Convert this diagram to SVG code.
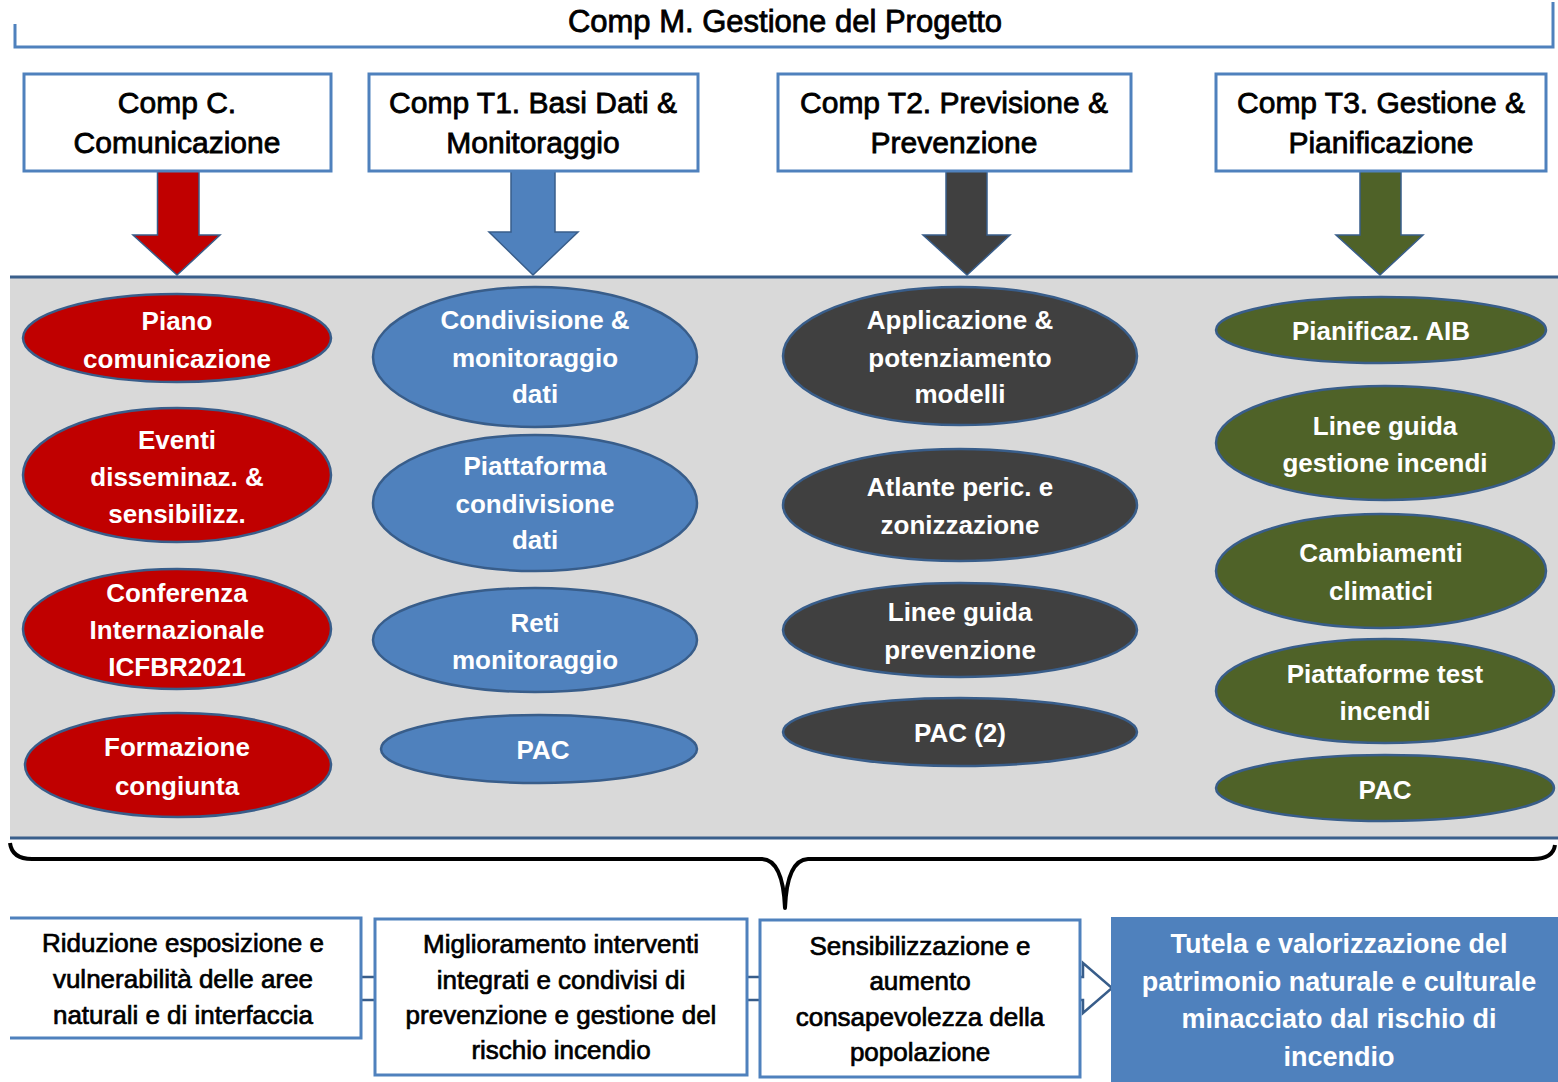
<svg xmlns="http://www.w3.org/2000/svg" width="1558" height="1082" viewBox="0 0 1558 1082">
<style>
.hdr{fill:#fff;stroke:#4F81BD;stroke-width:3}
.ht{font-family:"Liberation Sans",Arial,sans-serif;font-size:30px;fill:#000;stroke:#000;stroke-width:0.8;text-anchor:middle}
.el{stroke:#385D8A;stroke-width:2.5}
.red{fill:#C00000}.blu{fill:#4F81BD}.dk{fill:#404040}.olv{fill:#4F6228}
.et{font-family:"Liberation Sans",Arial,sans-serif;font-size:26px;font-weight:bold;fill:#fff;text-anchor:middle}
.arr{stroke:#385D8A;stroke-width:1.5}
.bx{fill:#fff;stroke:#4F81BD;stroke-width:3}
.bt{font-family:"Liberation Sans",Arial,sans-serif;font-size:26px;fill:#000;stroke:#000;stroke-width:0.7;text-anchor:middle}
.wt{font-family:"Liberation Sans",Arial,sans-serif;font-size:27px;font-weight:bold;fill:#fff;text-anchor:middle}
</style>

<g id="comp-m">
<path d="M15,24 L15,47 L1553,47 L1553,2" fill="none" stroke="#4F81BD" stroke-width="3"/>
<text class="ht" x="785" y="32" style="font-size:31px">Comp M. Gestione del Progetto</text>
</g>

<g id="panel">
<rect x="10" y="277" width="1548" height="561" fill="#D9D9D9"/>
<line x1="10" y1="277" x2="1558" y2="277" stroke="#3A5F8B" stroke-width="3"/>
<line x1="10" y1="838" x2="1558" y2="838" stroke="#3A5F8B" stroke-width="3"/>
</g>

<g id="connectors">
<polygon class="arr red" points="157.5,171 199,171 199,235 220,235 177,275 133,235 157.5,235"/>
<polygon class="arr blu" points="511,171 555,171 555,232 578,232 533,275 489,232 511,232"/>
<polygon class="arr dk" points="946,171 987,171 987,235 1010,235 967,275 923,235 946,235"/>
<polygon class="arr olv" points="1360,171 1401,171 1401,235 1423,235 1380,275 1336,235 1360,235"/>
<path d="M10,843 Q12,859 32,859 L762,859 Q783,860 785,908 Q787,860 808,859 L1533,859 Q1553,859 1555,845" fill="none" stroke="#000" stroke-width="4" stroke-linejoin="round"/>
<polygon points="300,977 1083,977 1083,963 1112,988 1083,1013 1083,1000 300,1000" fill="#fff" stroke="#385D8A" stroke-width="2.5"/>
</g>

<g id="hdr-c"><rect class="hdr" x="24" y="74" width="307" height="97"/>
<text class="ht" x="177" y="113">Comp C.</text><text class="ht" x="177" y="153">Comunicazione</text></g>
<g id="hdr-t1"><rect class="hdr" x="369" y="74" width="329" height="97"/>
<text class="ht" x="533" y="113">Comp T1. Basi Dati &amp;</text><text class="ht" x="533" y="153">Monitoraggio</text></g>
<g id="hdr-t2"><rect class="hdr" x="778" y="74" width="353" height="97"/>
<text class="ht" x="954" y="113">Comp T2. Previsione &amp;</text><text class="ht" x="954" y="153">Prevenzione</text></g>
<g id="hdr-t3"><rect class="hdr" x="1216" y="74" width="330" height="97"/>
<text class="ht" x="1381" y="113">Comp T3. Gestione &amp;</text><text class="ht" x="1381" y="153">Pianificazione</text></g>

<g id="c1"><ellipse class="el red" cx="177" cy="338" rx="154" ry="44"/>
<text class="et" x="177" y="330">Piano</text><text class="et" x="177" y="368">comunicazione</text></g>
<g id="c2"><ellipse class="el red" cx="177" cy="475" rx="154" ry="67"/>
<text class="et" x="177" y="449">Eventi</text><text class="et" x="177" y="486">disseminaz. &amp;</text><text class="et" x="177" y="523">sensibilizz.</text></g>
<g id="c3"><ellipse class="el red" cx="177" cy="629" rx="154" ry="60"/>
<text class="et" x="177" y="602">Conferenza</text><text class="et" x="177" y="639">Internazionale</text><text class="et" x="177" y="676">ICFBR2021</text></g>
<g id="c4"><ellipse class="el red" cx="178" cy="765" rx="153" ry="52"/>
<text class="et" x="177" y="756">Formazione</text><text class="et" x="177" y="795">congiunta</text></g>

<g id="t1a"><ellipse class="el blu" cx="535" cy="357" rx="162" ry="70"/>
<text class="et" x="535" y="329">Condivisione  &amp;</text><text class="et" x="535" y="367">monitoraggio</text><text class="et" x="535" y="403">dati</text></g>
<g id="t1b"><ellipse class="el blu" cx="535" cy="503" rx="162" ry="68"/>
<text class="et" x="535" y="475">Piattaforma</text><text class="et" x="535" y="513">condivisione</text><text class="et" x="535" y="549">dati</text></g>
<g id="t1c"><ellipse class="el blu" cx="535" cy="640" rx="162" ry="52"/>
<text class="et" x="535" y="632">Reti</text><text class="et" x="535" y="669">monitoraggio</text></g>
<g id="t1d"><ellipse class="el blu" cx="539" cy="749" rx="158" ry="34"/>
<text class="et" x="543" y="759">PAC</text></g>

<g id="t2a"><ellipse class="el dk" cx="960" cy="356" rx="177" ry="69"/>
<text class="et" x="960" y="329">Applicazione &amp;</text><text class="et" x="960" y="367">potenziamento</text><text class="et" x="960" y="403">modelli</text></g>
<g id="t2b"><ellipse class="el dk" cx="960" cy="505" rx="177" ry="56"/>
<text class="et" x="960" y="496">Atlante peric. e</text><text class="et" x="960" y="534">zonizzazione</text></g>
<g id="t2c"><ellipse class="el dk" cx="960" cy="630" rx="177" ry="47"/>
<text class="et" x="960" y="621">Linee guida</text><text class="et" x="960" y="659">prevenzione</text></g>
<g id="t2d"><ellipse class="el dk" cx="960" cy="732" rx="177" ry="34"/>
<text class="et" x="960" y="742">PAC (2)</text></g>

<g id="t3a"><ellipse class="el olv" cx="1381" cy="330" rx="165" ry="33"/>
<text class="et" x="1381" y="340">Pianificaz. AIB</text></g>
<g id="t3b"><ellipse class="el olv" cx="1385" cy="443" rx="169" ry="57"/>
<text class="et" x="1385" y="435">Linee guida</text><text class="et" x="1385" y="472">gestione incendi</text></g>
<g id="t3c"><ellipse class="el olv" cx="1381" cy="571" rx="165" ry="57"/>
<text class="et" x="1381" y="562">Cambiamenti</text><text class="et" x="1381" y="600">climatici</text></g>
<g id="t3d"><ellipse class="el olv" cx="1385" cy="691" rx="169" ry="52"/>
<text class="et" x="1385" y="683">Piattaforme test</text><text class="et" x="1385" y="720">incendi</text></g>
<g id="t3e"><ellipse class="el olv" cx="1385" cy="788" rx="169" ry="33"/>
<text class="et" x="1385" y="799">PAC</text></g>

<g id="out1"><rect x="0" y="918" width="361" height="120" fill="#fff"/>
<path d="M10,918 L361,918 L361,1038 L10,1038" fill="none" stroke="#4F81BD" stroke-width="3"/>
<text class="bt" x="183" y="952">Riduzione esposizione e</text><text class="bt" x="183" y="988">vulnerabilità delle aree</text><text class="bt" x="183" y="1024">naturali e di interfaccia</text></g>
<g id="out2"><rect class="bx" x="375" y="919" width="372" height="156"/>
<text class="bt" x="561" y="953">Miglioramento interventi</text><text class="bt" x="561" y="989">integrati e condivisi di</text><text class="bt" x="561" y="1024">prevenzione e gestione del</text><text class="bt" x="561" y="1059">rischio incendio</text></g>
<g id="out3"><rect class="bx" x="760" y="920" width="320" height="157"/>
<text class="bt" x="920" y="955">Sensibilizzazione e</text><text class="bt" x="920" y="990">aumento</text><text class="bt" x="920" y="1026">consapevolezza della</text><text class="bt" x="920" y="1061">popolazione</text></g>
<g id="goal"><rect x="1111" y="917" width="447" height="165" fill="#4F81BD"/>
<text class="wt" x="1339" y="953">Tutela e valorizzazione del</text><text class="wt" x="1339" y="991">patrimonio naturale e culturale</text><text class="wt" x="1339" y="1028">minacciato dal rischio di</text><text class="wt" x="1339" y="1066">incendio</text></g>
</svg>
